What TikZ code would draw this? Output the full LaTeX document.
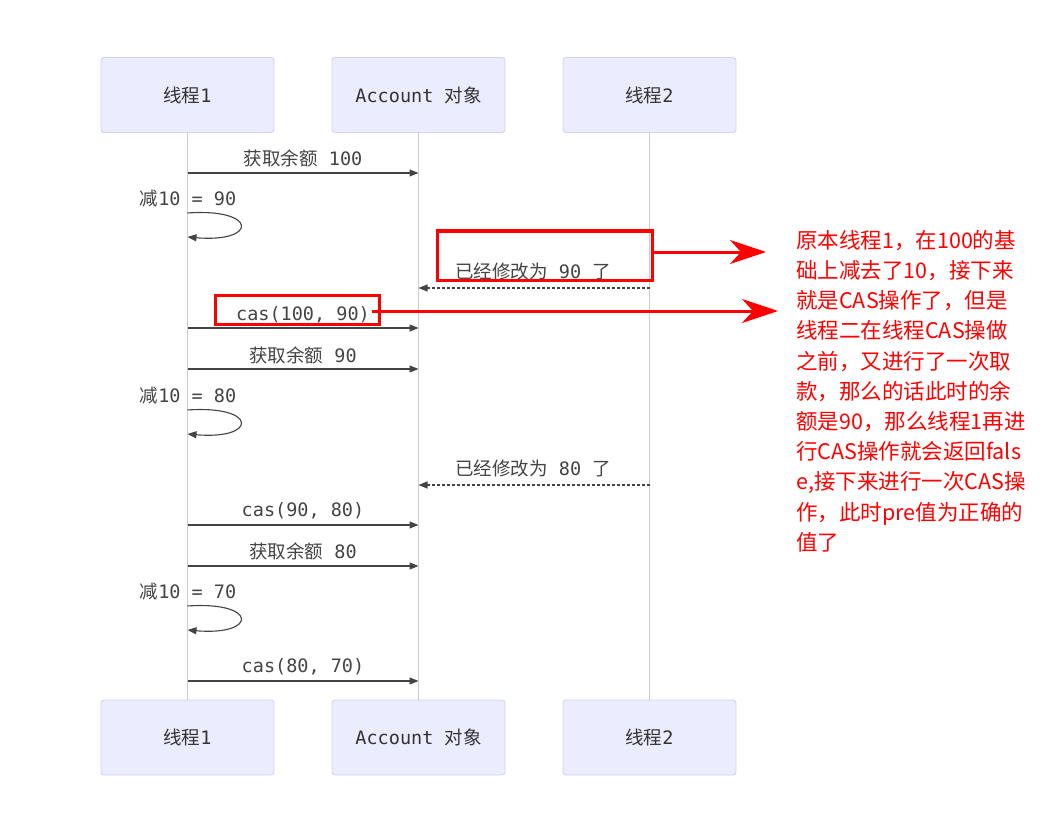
\documentclass[tikz,border=0pt]{standalone}
\usepackage{fontspec}
\setmonofont{DejaVu Sans Mono}
\newfontfamily\cjk{Noto Sans CJK SC}
\usetikzlibrary{arrows.meta}
\definecolor{boxfill}{HTML}{ECECFF}
\definecolor{boxdraw}{HTML}{D2D2F4}
\definecolor{txt}{HTML}{333333}
\definecolor{msg}{HTML}{444444}
\definecolor{life}{HTML}{CCCCCC}
\definecolor{rd}{HTML}{FF0000}
\begin{document}
\begin{tikzpicture}[x=1pt,y=-1pt,
  actor/.style={draw=boxdraw, fill=boxfill, rounded corners=3pt, minimum width=173pt, minimum height=75pt, line width=0.9pt, text=txt, font=\fontsize{18.5}{20}\selectfont, inner sep=0pt},
  lifeline/.style={draw=life, line width=0.9pt},
  msgline/.style={draw=msg, line width=1.1pt, -{Triangle[length=9pt,width=7pt]}},
  retline/.style={draw=msg, line width=1.1pt, dash pattern=on 2.5pt off 2.5pt, -{Triangle[length=9pt,width=7pt]}},
  lbl/.style={text=msg, font=\fontsize{18.5}{20}\selectfont, inner sep=0pt},
  redbox/.style={draw=rd, line width=3pt, inner sep=0pt},
  redarrow/.style={draw=rd, line width=3pt, -{Stealth[length=36pt,width=24pt,inset=11pt]}},
  note/.style={text=rd, font=\cjk\fontsize{21.5}{30.2}\selectfont, align=left, inner sep=0pt, anchor=north west}
]
\useasboundingbox (0,0) rectangle (1048,834);
\fill[white] (0,0) rectangle (1048,834);

% actors
\node[actor] (t1top) at (187.5,95) {{\cjk 线程}\texttt{1}};
\node[actor] (actop) at (418.5,95) {\texttt{Account }{\cjk 对象}};
\node[actor] (t2top) at (649.5,95) {{\cjk 线程}\texttt{2}};
\node[actor] (t1bot) at (187.5,737.5) {{\cjk 线程}\texttt{1}};
\node[actor] (acbot) at (418.5,737.5) {\texttt{Account }{\cjk 对象}};
\node[actor] (t2bot) at (649.5,737.5) {{\cjk 线程}\texttt{2}};

% lifelines
\draw[lifeline] (t1top.south) -- (t1bot.north);
\draw[lifeline] (actop.south) -- (acbot.north);
\draw[lifeline] (t2top.south) -- (t2bot.north);

% message 1
\node[lbl] (m1) at (303,158) {{\cjk 获取余额}\texttt{ 100}};
\draw[msgline] (t1top.south |- 0,173) -- (actop.south |- 0,173);
% self 1
\node[lbl] (s1) at (188,199) {{\cjk 减}\texttt{10 = 90}};
\draw[msgline] (t1top.south |- 0,213) .. controls (258,208) and (258,243) .. (t1top.south |- 0,237);
% return 1
\node[lbl] (r1) at (533,271) {{\cjk 已经修改为}\texttt{ 90 }{\cjk 了}};
\draw[retline] (t2top.south |- 0,288) -- (actop.south |- 0,288);
% cas 1
\node[lbl] (c1) at (303,315) {\texttt{cas(100, 90)}};
\draw[msgline] (t1top.south |- 0,328) -- (actop.south |- 0,328);
% message 2
\node[lbl] (m2) at (303,355) {{\cjk 获取余额}\texttt{ 90}};
\draw[msgline] (t1top.south |- 0,369) -- (actop.south |- 0,369);
% self 2
\node[lbl] (s2) at (188,396) {{\cjk 减}\texttt{10 = 80}};
\draw[msgline] (t1top.south |- 0,410) .. controls (258,405) and (258,440) .. (t1top.south |- 0,434);
% return 2
\node[lbl] (r2) at (533,468) {{\cjk 已经修改为}\texttt{ 80 }{\cjk 了}};
\draw[retline] (t2top.south |- 0,485) -- (actop.south |- 0,485);
% cas 2
\node[lbl] (c2) at (303,511) {\texttt{cas(90, 80)}};
\draw[msgline] (t1top.south |- 0,525) -- (actop.south |- 0,525);
% message 3
\node[lbl] (m3) at (303,551) {{\cjk 获取余额}\texttt{ 80}};
\draw[msgline] (t1top.south |- 0,566) -- (actop.south |- 0,566);
% self 3
\node[lbl] (s3) at (188,592) {{\cjk 减}\texttt{10 = 70}};
\draw[msgline] (t1top.south |- 0,606) .. controls (258,601) and (258,636) .. (t1top.south |- 0,630);
% cas 3
\node[lbl] (c3) at (303,667) {\texttt{cas(80, 70)}};
\draw[msgline] (t1top.south |- 0,681) -- (actop.south |- 0,681);

% red annotations
\node[redbox, minimum width=215pt, minimum height=49pt] (rb1) at (544.5,255.5) {};
\node[redbox, minimum width=164pt, minimum height=29pt] (rb2) at (297,309.5) {};
\coordinate (e1) at (766,252);
\coordinate (e2) at (778,311);
\draw[redarrow] (rb1.east |- 0,252) -- (e1);
\draw[redarrow] (372,311) -- (e2);

\node[note] (txt) at (796,230) {原本线程1，在100的基\\础上减去了10，接下来\\就是CAS操作了，但是\\线程二在线程CAS操做\\之前，又进行了一次取\\款，那么的话此时的余\\额是90，那么线程1再进\\行CAS操作就会返回fals\\e,接下来进行一次CAS操\\作，此时pre值为正确的\\值了};
\end{tikzpicture}
\end{document}
